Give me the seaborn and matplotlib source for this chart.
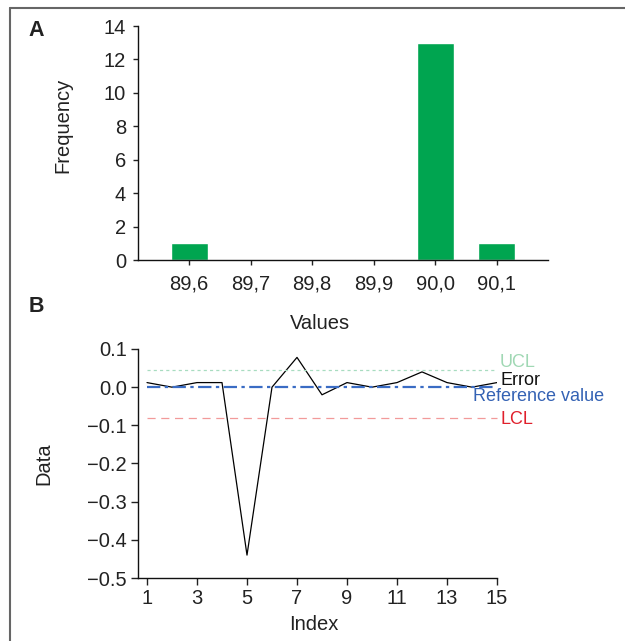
import matplotlib
matplotlib.use("Agg")
import matplotlib.pyplot as plt
from matplotlib.lines import Line2D
import seaborn as sns
import pandas as pd

# Panel A: frequency of measured values
value_labels = ["89,6", "89,7", "89,8", "89,9", "90,0", "90,1"]
frequency = [1, 0, 0, 0.08, 13, 1]

# Panel B: measurement error per index with control limits
index = list(range(1, 16))
error = [0.012, 0.0, 0.012, 0.012, -0.44, 0.0, 0.078, -0.02,
         0.012, 0.0, 0.012, 0.04, 0.012, 0.0, 0.012]
ucl = 0.045
lcl = -0.082
reference_value = 0.0

sns.set_theme(style="ticks")
plt.rcParams["font.family"] = ["Liberation Sans", "DejaVu Sans"]
plt.rcParams["axes.unicode_minus"] = True

fig = plt.figure(figsize=(6.25, 6.41), dpi=100)
W, H = 625, 641

def axes_box(left, top, right, bottom):
    return [left / W, 1 - bottom / H, (right - left) / W, (bottom - top) / H]

text_color = "#222222"
tick_size = 14.5

# ---- Panel A ----
axA = fig.add_axes(axes_box(138, 26, 548, 260))
dfA = pd.DataFrame({"value": value_labels, "freq": frequency})
sns.barplot(data=dfA, x="value", y="freq", order=value_labels,
            color="#00a550", saturation=1, width=0.6, ax=axA)
axA.set_xlim(-0.83, 5.83)
axA.set_ylim(0, 14)
axA.set_yticks(range(0, 15, 2))
axA.set_xlabel("Values", fontsize=14.5, color=text_color)
axA.set_ylabel("Frequency", fontsize=14.5, color=text_color, va="center")
axA.yaxis.set_label_coords(-0.183, 0.577)
axA.xaxis.set_label_coords(0.444, -0.23)
axA.tick_params(axis="y", length=3.6, width=1, pad=5, labelsize=tick_size, colors=text_color)
axA.tick_params(axis="x", length=3.6, width=1, pad=7, labelsize=tick_size, colors=text_color)
sns.despine(ax=axA)
for s in ("left", "bottom"):
    axA.spines[s].set_linewidth(1.0)
    axA.spines[s].set_color("#111111")

# ---- Panel B ----
axB = fig.add_axes(axes_box(138, 349, 497, 578))
sns.lineplot(x=index, y=error, color="black", linewidth=0.9, ax=axB)
axB.plot([index[0], index[-1]], [ucl, ucl], color="#a8dcc0", linewidth=0.9,
         dashes=(2.5, 2.5), clip_on=False)
axB.plot([index[0], index[-1]], [reference_value, reference_value], color="#3a6cc4",
         linewidth=1.6, dashes=(6, 2, 1.5, 2), clip_on=False)
axB.plot([index[0], index[-1]], [lcl, lcl], color="#f29a9a", linewidth=0.9,
         dashes=(6.5, 4.5), clip_on=False)
axB.set_xlim(0.64, 15)
axB.set_ylim(-0.5, 0.1)
axB.set_xticks(range(1, 16, 2))
axB.set_yticks([0.1, 0.0, -0.1, -0.2, -0.3, -0.4, -0.5])
axB.set_yticklabels(["0.1", "0.0", "\u22120.1", "\u22120.2", "\u22120.3", "\u22120.4", "\u22120.5"])
axB.set_xlabel("Index", fontsize=14.5, color=text_color)
axB.set_ylabel("Data", fontsize=14.5, color=text_color, va="center")
axB.yaxis.set_label_coords(-0.263, 0.498)
axB.xaxis.set_label_coords(0.49, -0.16)
axB.tick_params(axis="both", length=5, width=1, pad=3, labelsize=tick_size, colors=text_color)
sns.despine(ax=axB)
for s in ("left", "bottom"):
    axB.spines[s].set_linewidth(1.0)
    axB.spines[s].set_color("#111111")

# Line annotations to the right of the plot
axB.text(15.12, ucl + 0.019, "UCL", color="#a0d8b4", fontsize=13, va="center", ha="left", clip_on=False)
axB.text(15.12, 0.018, "Error", color="#111111", fontsize=13, va="center", ha="left", clip_on=False)
axB.text(14.04, reference_value - 0.025, "Reference value", color="#3462b4", fontsize=13,
         va="center", ha="left", clip_on=False)
axB.text(15.12, lcl - 0.002, "LCL", color="#e0202c", fontsize=13, va="center", ha="left", clip_on=False)

# Panel letters
fig.text(36 / W, 1 - 30 / H, "A", fontsize=15.5, fontweight="bold", color=text_color, ha="center", va="center")
fig.text(36 / W, 1 - 306 / H, "B", fontsize=15.5, fontweight="bold", color=text_color, ha="center", va="center")

# Outer frame (left and top edges)
fig.add_artist(Line2D([10 / W, 10 / W], [0, 1 - 8 / H], color="#666666", linewidth=1.5))
fig.add_artist(Line2D([10 / W, 1], [1 - 8 / H, 1 - 8 / H], color="#666666", linewidth=1.5))

fig.savefig("out.png", dpi=100)
